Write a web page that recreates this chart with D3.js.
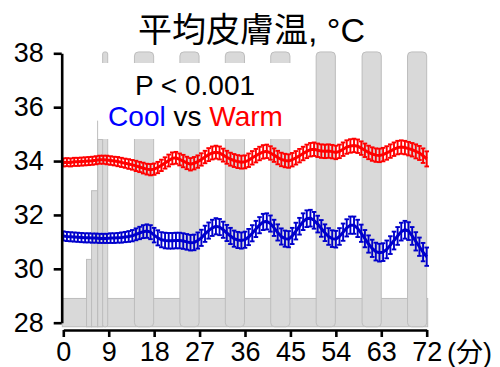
<!DOCTYPE html>
<meta charset="utf-8">
<script src="https://d3js.org/d3.v7.min.js"></script>
<style>
  body { margin: 0; background: #fff; }
  text { font-family: "Liberation Sans", Arial, "Noto Sans CJK JP", sans-serif; }
</style>
<div id="my_dataviz"></div>
<script>

// ---- data ----
var xTicks = [0, 9, 18, 27, 36, 45, 54, 63, 72];
var yTicks = [28, 30, 32, 34, 36, 38];
var step = 0.72; // minutes between samples

var warmMean = [
  33.95,33.96,33.95,33.97,33.97,33.98,33.99,34.00,34.01,34.03,
  34.05,34.05,34.04,34.02,34.00,33.98,33.95,33.92,33.89,33.86,
  33.82,33.78,33.74,33.70,33.68,33.70,33.76,33.84,33.93,34.02,
  34.10,34.12,34.06,34.00,33.93,33.88,33.92,33.98,34.06,34.15,
  34.24,34.30,34.33,34.30,34.22,34.14,34.07,34.02,33.98,33.96,
  33.97,34.03,34.12,34.20,34.28,34.34,34.36,34.30,34.22,34.13,
  34.06,34.02,34.00,34.05,34.12,34.20,34.28,34.36,34.42,34.44,
  34.40,34.37,34.36,34.37,34.35,34.32,34.36,34.44,34.52,34.56,
  34.58,34.55,34.48,34.40,34.32,34.26,34.22,34.21,34.24,34.30,
  34.37,34.44,34.50,34.52,34.50,34.46,34.42,34.36,34.30,34.20,
  34.08
];
var warmErr = [
  0.15,0.15,0.15,0.15,0.15,0.15,0.15,0.15,0.15,0.15,
  0.15,0.15,0.16,0.16,0.16,0.17,0.17,0.17,0.18,0.18,
  0.19,0.19,0.20,0.20,0.21,0.21,0.21,0.21,0.21,0.22,
  0.22,0.22,0.22,0.23,0.23,0.23,0.23,0.23,0.23,0.23,
  0.24,0.24,0.24,0.24,0.24,0.24,0.24,0.24,0.24,0.24,
  0.24,0.25,0.25,0.25,0.25,0.25,0.25,0.25,0.25,0.25,
  0.25,0.25,0.25,0.25,0.25,0.25,0.25,0.25,0.25,0.25,
  0.25,0.25,0.25,0.25,0.25,0.25,0.25,0.25,0.25,0.25,
  0.25,0.25,0.25,0.25,0.25,0.25,0.25,0.25,0.25,0.25,
  0.25,0.25,0.25,0.25,0.25,0.25,0.25,0.26,0.26,0.27,
  0.28
];
var coolMean = [
  31.22,31.20,31.19,31.18,31.17,31.16,31.15,31.15,31.14,31.14,
  31.13,31.13,31.13,31.14,31.14,31.15,31.16,31.18,31.20,31.23,
  31.28,31.33,31.38,31.40,31.36,31.25,31.15,31.08,31.05,31.04,
  31.04,31.05,31.05,31.03,31.00,30.97,30.98,31.05,31.15,31.30,
  31.42,31.52,31.58,31.55,31.45,31.33,31.22,31.12,31.07,31.05,
  31.08,31.18,31.32,31.48,31.62,31.74,31.76,31.68,31.52,31.35,
  31.20,31.12,31.10,31.22,31.40,31.58,31.75,31.86,31.88,31.80,
  31.66,31.50,31.34,31.20,31.12,31.10,31.20,31.36,31.52,31.62,
  31.62,31.50,31.32,31.12,30.92,30.76,30.64,30.60,30.62,30.72,
  30.88,31.05,31.22,31.38,31.45,31.40,31.22,31.02,30.82,30.62,
  30.45
];
var coolErr = [
  0.17,0.17,0.17,0.17,0.17,0.17,0.17,0.17,0.17,0.17,
  0.17,0.17,0.17,0.18,0.18,0.18,0.19,0.19,0.20,0.21,
  0.22,0.23,0.24,0.25,0.26,0.27,0.28,0.28,0.29,0.29,
  0.29,0.29,0.29,0.29,0.29,0.29,0.29,0.30,0.30,0.30,
  0.30,0.30,0.30,0.30,0.30,0.30,0.30,0.30,0.30,0.30,
  0.30,0.30,0.30,0.30,0.30,0.30,0.30,0.30,0.30,0.30,
  0.30,0.30,0.30,0.30,0.31,0.31,0.31,0.31,0.31,0.31,
  0.31,0.31,0.31,0.31,0.31,0.31,0.31,0.32,0.32,0.32,
  0.32,0.32,0.32,0.32,0.32,0.32,0.33,0.33,0.33,0.33,
  0.33,0.33,0.33,0.33,0.33,0.33,0.33,0.34,0.34,0.34,
  0.34
];

// protocol blocks (minutes)
var blockStart = [14.1, 23.1, 32.1, 41.1, 50.1, 59.2, 68.2];
var blockLen = 3.8;
var rampStart = [4.6, 5.6, 6.8, 7.8];
var rampEnd   = [5.6, 6.8, 7.8, 8.8];
var rampTop   = [30.35, 32.9, 34.8, 38.05];
var spikeAt = 6.8, spikeTop = 35.5;
var floorLevel = 28.9, barBase = 27.85, blockTop = 38.05;

// ---- layout ----
var W = 500, H = 367;
var svg = d3.select("#my_dataviz")
  .append("svg")
    .attr("width", W)
    .attr("height", H);

var x = d3.scaleLinear().domain([0, 72]).range([63.3, 426.7]);
var y = d3.scaleLinear().domain([28, 38]).range([322.7, 53.3]);

var gray = "#d9d9d9", grayLine = "#bdbdbd";

// floor band
svg.append("rect")
  .attr("x", x(0) - 1).attr("y", y(floorLevel))
  .attr("width", x(72) - x(0) + 2).attr("height", y(barBase) - y(floorLevel))
  .attr("fill", gray).attr("stroke", grayLine).attr("stroke-width", 1);

// ramp bars
svg.selectAll("rampbar")
  .data(rampStart)
  .enter()
  .append("rect")
    .attr("x", function(d) { return x(d); })
    .attr("y", function(d, i) { return y(rampTop[i]); })
    .attr("width", function(d, i) { return x(rampEnd[i]) - x(d); })
    .attr("height", function(d, i) { return y(barBase) - y(rampTop[i]); })
    .attr("rx", function(d, i) { return i == 3 ? 2 : 0; })
    .attr("fill", gray).attr("stroke", grayLine).attr("stroke-width", 1);

svg.append("line")
  .attr("x1", x(spikeAt)).attr("x2", x(spikeAt))
  .attr("y1", y(spikeTop)).attr("y2", y(barBase))
  .attr("stroke", grayLine).attr("stroke-width", 1);

// tall blocks
svg.selectAll("block")
  .data(blockStart)
  .enter()
  .append("rect")
    .attr("x", function(d) { return x(d); })
    .attr("y", y(blockTop))
    .attr("width", function(d) { return x(d + blockLen) - x(d); })
    .attr("height", y(barBase) - y(blockTop))
    .attr("rx", 4)
    .attr("fill", gray).attr("stroke", grayLine).attr("stroke-width", 1);

// legend background
svg.append("rect")
  .attr("x", 100).attr("y", 63).attr("width", 200).attr("height", 76)
  .attr("fill", "#fff");

svg.append("text")
  .attr("x", 195).attr("y", 95)
  .attr("text-anchor", "middle")
  .style("font-size", "28px")
  .text("P < 0.001");

var leg = svg.append("text")
  .attr("x", 195.5).attr("y", 126)
  .attr("text-anchor", "middle")
  .style("font-size", "28px");
leg.append("tspan").attr("fill", "#0000ff").text("Cool");
leg.append("tspan").attr("fill", "#000").text(" vs ");
leg.append("tspan").attr("fill", "#ff0000").text("Warm");

// series
function drawSeries(mean, err, color) {
  var pts = mean.map(function(m, i) { return {t: i * step, m: m, e: err[i]}; });
  var g = svg.append("g");
  g.append("path")
    .datum(pts)
    .attr("fill", "none")
    .attr("stroke", color)
    .attr("stroke-width", 3)
    .attr("d", d3.line()
      .x(function(d) { return x(d.t); })
      .y(function(d) { return y(d.m); }));
  var eb = g.selectAll("eb").data(pts).enter().append("g")
    .attr("stroke", color).attr("stroke-width", 1.9);
  eb.append("line")
    .attr("x1", function(d) { return x(d.t); })
    .attr("x2", function(d) { return x(d.t); })
    .attr("y1", function(d) { return y(d.m - d.e); })
    .attr("y2", function(d) { return y(d.m + d.e); });
  eb.append("line")
    .attr("x1", function(d) { return x(d.t) - 2.3; })
    .attr("x2", function(d) { return x(d.t) + 2.3; })
    .attr("y1", function(d) { return y(d.m + d.e); })
    .attr("y2", function(d) { return y(d.m + d.e); });
  eb.append("line")
    .attr("x1", function(d) { return x(d.t) - 2.3; })
    .attr("x2", function(d) { return x(d.t) + 2.3; })
    .attr("y1", function(d) { return y(d.m - d.e); })
    .attr("y2", function(d) { return y(d.m - d.e); });
}
drawSeries(warmMean, warmErr, "#ff0000");
drawSeries(coolMean, coolErr, "#0000cc");

// Y axis
var yAxis = svg.append("g")
  .attr("transform", "translate(61.7,0)")
  .call(d3.axisLeft(y).tickValues(yTicks).tickSize(8).tickSizeOuter(0).tickPadding(10));
yAxis.select(".domain").attr("stroke-width", 2.6);
yAxis.selectAll(".tick line").attr("stroke-width", 2.6);
yAxis.selectAll("text").style("font-size", "27px").attr("fill", "#000")
  .style("font-family", "'Liberation Sans', Arial, sans-serif");

// X axis
var xAxis = svg.append("g")
  .attr("transform", "translate(0,330)")
  .call(d3.axisBottom(x).tickValues(xTicks).tickSize(7).tickSizeOuter(0).tickPadding(5));
xAxis.select(".domain").attr("stroke-width", 2.6);
xAxis.selectAll(".tick line").attr("stroke-width", 2.6);
xAxis.selectAll("text").style("font-size", "27px").attr("fill", "#000")
  .style("font-family", "'Liberation Sans', Arial, sans-serif");

svg.append("text")
  .attr("x", 447).attr("y", 362)
  .style("font-size", "27px")
  .text("(分)");

// title
svg.append("text")
  .attr("x", 251.5).attr("y", 42)
  .attr("text-anchor", "middle")
  .style("font-size", "34px")
  .text("平均皮膚温, °C");

</script>
